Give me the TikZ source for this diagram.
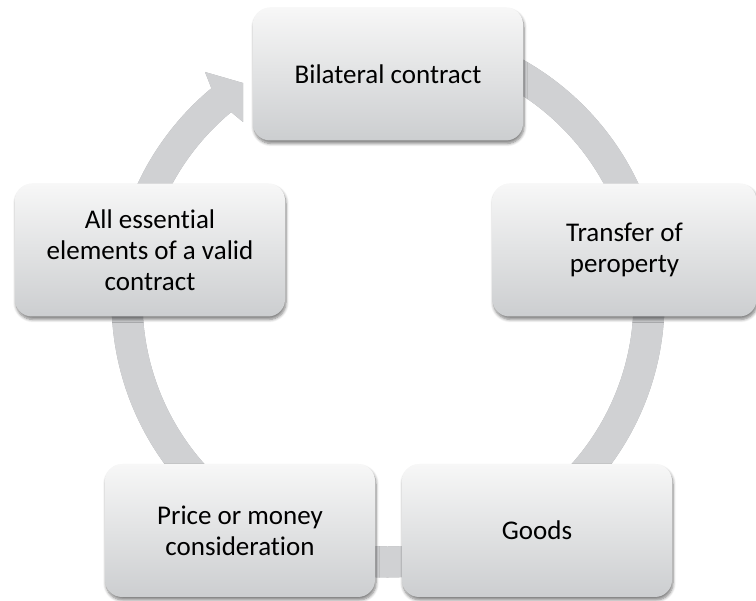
\documentclass[tikz,border=0pt]{standalone}
\usepackage{fontspec}
\setmainfont{Carlito}[Ligatures=NoCommon]
\usetikzlibrary{shadows.blur}
\definecolor{ringgray}{RGB}{208,209,211}
\definecolor{ringshade}{RGB}{168,169,171}
\definecolor{boxtop}{RGB}{247,247,247}
\definecolor{boxbot}{RGB}{204,206,208}
\begin{document}
\begin{tikzpicture}[x=1pt,y=1pt,
  box/.style={rounded corners=17pt, minimum width=270pt, minimum height=133pt,
    top color=boxtop, bottom color=boxbot, draw=none, align=center, inner sep=0pt,
    font=\fontsize{27}{31}\selectfont,
    blur shadow={shadow xshift=1pt, shadow yshift=-3pt, shadow opacity=50, shadow blur steps=6, shadow blur radius=3pt}},
  ringline/.style={line width=31pt}]
\useasboundingbox (0,0) rectangle (756,601);
\coordinate (c) at (388,300);
\coordinate (ob) at (205,529);
\coordinate (tip) at (243,518);
\coordinate (ib) at (243,479);
% ring shadow
\begin{scope}[yshift=-3pt]
  \draw[ringline, draw=ringshade] ([shift={(95:261)}]c) arc[start angle=95, end angle=-230.8, radius=261];
  \fill[ringshade] ([shift={(129.7:276.5)}]c) -- (ob) -- (tip) -- (ib) -- ([shift={(129.7:245.5)}]c) -- cycle;
\end{scope}
% ring
\draw[ringline, draw=ringgray] ([shift={(95:261)}]c) arc[start angle=95, end angle=-230.8, radius=261];
\fill[ringgray] ([shift={(129.7:276.5)}]c) -- (ob) -- (tip) -- (ib) -- ([shift={(129.7:245.5)}]c) -- cycle;
% boxes
\node[box] (bil) at (388,527) {Bilateral contract};
\node[box, minimum width=264pt] (tra) at (624.5,351) {Transfer of\\peroperty};
\node[box] (goo) at (537,70.5) {Goods};
\node[box] (pri) at (240,70.5) {Price or money\\consideration};
\node[box] (ess) at (150,351) {All essential\\elements of a valid\\contract};
\end{tikzpicture}
\end{document}
